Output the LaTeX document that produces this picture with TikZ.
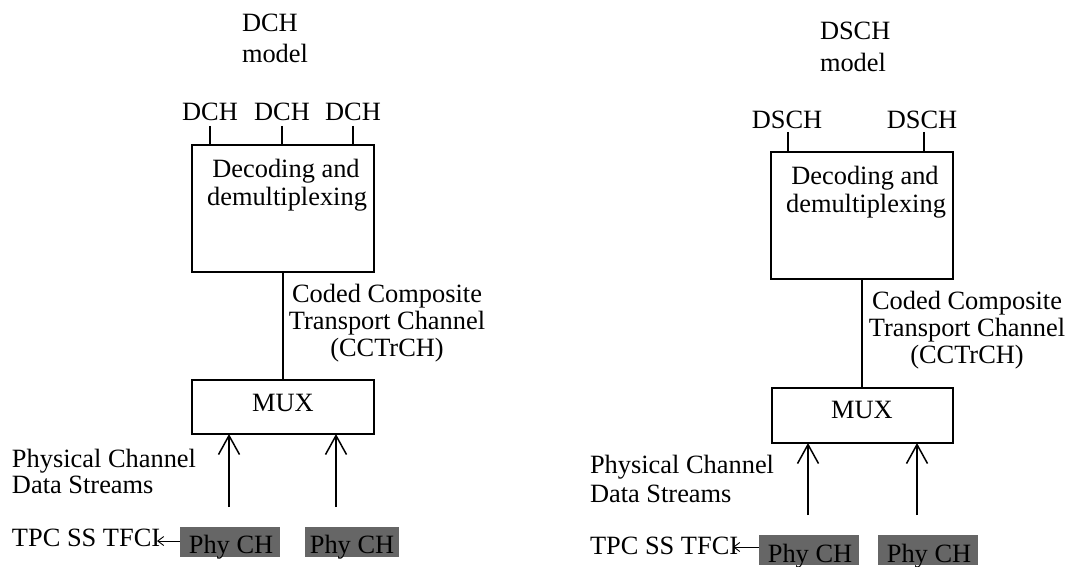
\documentclass[tikz,border=0pt]{standalone}
\usepackage{fontspec}
\setmainfont{Liberation Serif}
\usetikzlibrary{arrows.meta}
\definecolor{phygray}{RGB}{102,102,102}
\begin{document}
\begin{tikzpicture}[x=1pt,y=-1pt,
  txt/.style={font=\fontsize{26.4}{27}\selectfont,inner sep=0pt,outer sep=0pt},
  lt/.style={txt,anchor=base west},
  ct/.style={txt,anchor=base},
  blk/.style={draw,line width=1.8pt,inner sep=0pt},
  tick/.style={line width=1.5pt},
  bigarrow/.style={line width=1.5pt,-{Straight Barb[length=19pt,width=21pt,line width=1.5pt]}},
  smallarrow/.style={line width=0.9pt,-{Straight Barb[length=6pt,width=9pt,line width=0.9pt]}},
  phy/.style={fill=phygray,inner sep=0pt}]
\useasboundingbox (0,0) rectangle (1071,567);

% ================= Left: DCH model =================
\node[lt] (lt1) at (242,32) {DCH};
\node[lt] (lt2) at (242,63) {model};

\node[ct] (d1) at (210,121) {DCH};
\node[ct] (d2) at (282,121) {DCH};
\node[ct] (d3) at (353,121) {DCH};

\path[blk,draw] (192,145) rectangle (374,272);
\coordinate (lbtop) at (283,145);
\coordinate (lbbot) at (283,272);
\coordinate (t1) at (210,145);
\coordinate (t2) at (282,145);
\coordinate (t3) at (353,145);
\coordinate (t1u) at (210,126);
\coordinate (t2u) at (282,126);
\coordinate (t3u) at (353,126);
\draw[tick] (t1u) -- (t1);
\draw[tick] (t2u) -- (t2);
\draw[tick] (t3u) -- (t3);

\node[ct] (ldec1) at (286,177) {Decoding and};
\node[ct] (ldec2) at (287,205) {demultiplexing};

\node[ct] (lc1) at (387,302) {Coded Composite};
\node[ct] (lc2) at (387,329) {Transport Channel};
\node[ct] (lc3) at (387,356) {(CCTrCH)};

\path[blk,draw] (192,380) rectangle (374,434);
\coordinate (lmtop) at (283,380);
\coordinate (lmb1) at (229,434);
\coordinate (lmb2) at (336,434);
\node[ct] (lmux) at (283,411) {MUX};
\draw[line width=1.5pt] (lbbot) -- (lmtop);

\coordinate (la1) at (229,507);
\coordinate (la2) at (336,507);
\draw[bigarrow] (la1) -- (lmb1);
\draw[bigarrow] (la2) -- (lmb2);

\node[lt] (lp1) at (12,467) {Physical Channel};
\node[lt] (lp2) at (12,493) {Data Streams};

\path[phy] (180,527) rectangle (280,557);
\path[phy] (305,527) rectangle (399,557);
\node[ct] (lphy1) at (231,553) {Phy CH};
\node[ct] (lphy2) at (352,553) {Phy CH};

\node[lt] (ltpc) at (12,546) {TPC SS TFCI};
\coordinate (lsa) at (180,541);
\coordinate (lsb) at (157,541);
\draw[smallarrow] (lsa) -- (lsb);

% ================= Right: DSCH model =================
\node[lt] (rt1) at (820,40) {DSCH};
\node[lt] (rt2) at (820,72) {model};

\node[ct] (s1) at (787,129) {DSCH};
\node[ct] (s2) at (922,129) {DSCH};

\path[blk,draw] (771,152) rectangle (953,279);
\coordinate (rbbot) at (862,279);
\coordinate (u1) at (788,152);
\coordinate (u2) at (924,152);
\coordinate (u1u) at (788,132);
\coordinate (u2u) at (924,132);
\draw[tick] (u1u) -- (u1);
\draw[tick] (u2u) -- (u2);

\node[ct] (rdec1) at (865,184) {Decoding and};
\node[ct] (rdec2) at (866,212) {demultiplexing};

\node[ct] (rc1) at (967,309) {Coded Composite};
\node[ct] (rc2) at (967,336) {Transport Channel};
\node[ct] (rc3) at (967,363) {(CCTrCH)};

\path[blk,draw] (772,388) rectangle (953,443);
\coordinate (rmtop) at (862,388);
\coordinate (rmb1) at (808,443);
\coordinate (rmb2) at (917,443);
\node[ct] (rmux) at (862,418) {MUX};
\draw[line width=1.5pt] (rbbot) -- (rmtop);

\coordinate (ra1) at (808,515);
\coordinate (ra2) at (917,515);
\draw[bigarrow] (ra1) -- (rmb1);
\draw[bigarrow] (ra2) -- (rmb2);

\node[lt] (rp1) at (590,473) {Physical Channel};
\node[lt] (rp2) at (590,502) {Data Streams};

\path[phy] (759,535) rectangle (859,565);
\path[phy] (878,535) rectangle (978,565);
\node[ct] (rphy1) at (810,562) {Phy CH};
\node[ct] (rphy2) at (929,562) {Phy CH};

\node[lt] (rtpc) at (590,554) {TPC SS TFCI};
\coordinate (rsa) at (759,547);
\coordinate (rsb) at (733,547);
\draw[smallarrow] (rsa) -- (rsb);
\end{tikzpicture}
\end{document}
